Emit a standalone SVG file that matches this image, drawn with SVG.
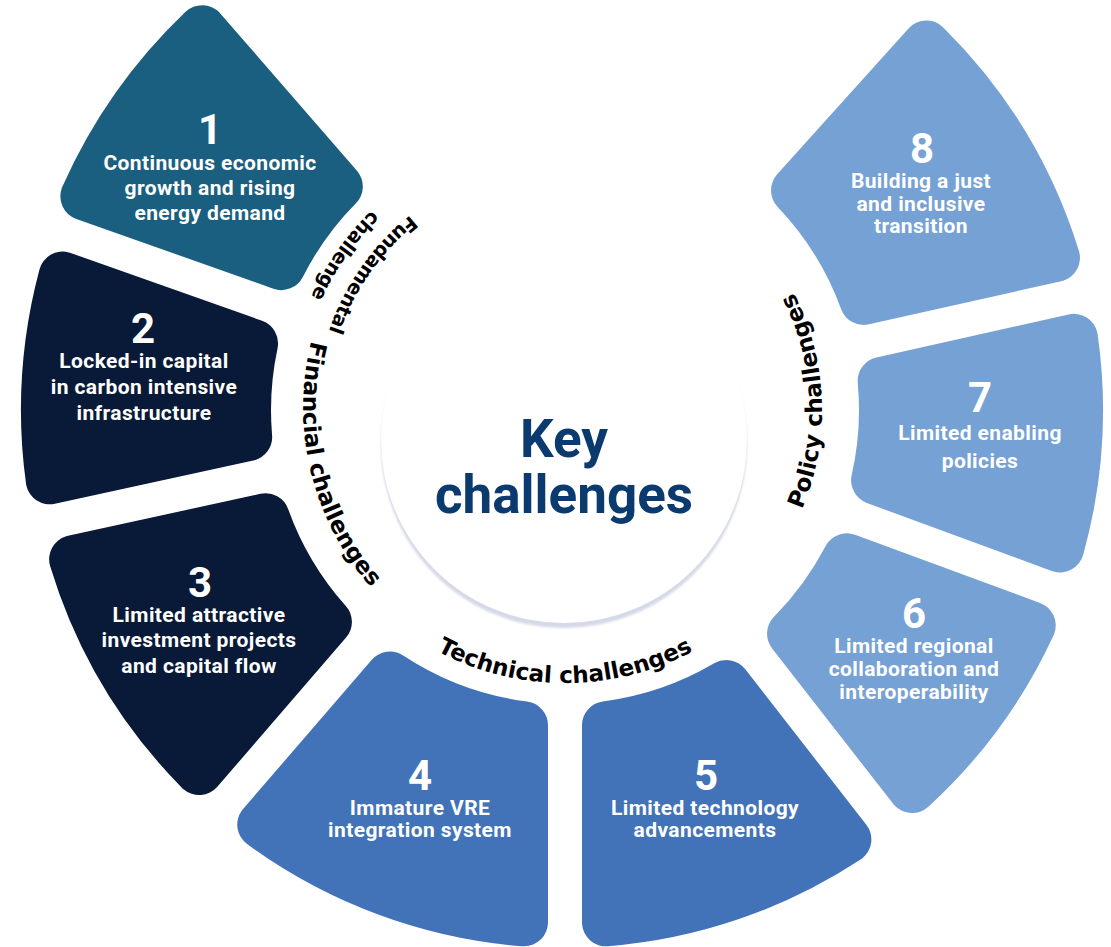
<svg xmlns="http://www.w3.org/2000/svg" xmlns:xlink="http://www.w3.org/1999/xlink" width="1111" height="947" viewBox="0 0 1111 947">
<defs>
<style>
.seg{stroke-width:48;stroke-linejoin:round}
.c1{fill:#1a5f80;stroke:#1a5f80}
.c2{fill:#081a37;stroke:#081a37}
.c4{fill:#4273b8;stroke:#4273b8}
.c6{fill:#76a1d4;stroke:#76a1d4}
.num{font-family:Roboto,"Liberation Sans",sans-serif;font-weight:700;font-size:42px;fill:#fff;text-anchor:middle}
.txt{font-family:Roboto,"Liberation Sans",sans-serif;font-weight:700;font-size:21px;letter-spacing:0.4px;fill:#fff;text-anchor:middle}
.lbl{font-family:"DejaVu Sans",sans-serif;font-weight:700;font-size:23px;fill:#000;text-anchor:middle}
.lbls{font-family:"DejaVu Sans",sans-serif;font-weight:700;font-size:19.5px;fill:#000;text-anchor:middle}
.key{font-family:Roboto,"Liberation Sans",sans-serif;font-weight:700;font-size:53px;fill:#0b3a6e;text-anchor:middle}
</style>
<path id="pTech" d="M296.15,457.41 A273,273 0 0 0 833.85,457.41"/>
<path id="pFin" d="M456.91,162.58 A272,272 0 0 0 581.95,679.47"/>
<path id="pPol" d="M619.31,661.2 A257,257 0 0 0 599.88,155.38"/>
<path id="pFund1" d="M670.23,184.33 A249,249 0 0 0 388.93,586.07"/>
<path id="pFund2" d="M682.49,158.05 A278,278 0 0 0 368.42,606.58"/>
<filter id="blur" x="-10%" y="-10%" width="120%" height="120%"><feGaussianBlur stdDeviation="1.2"/></filter>
</defs>
<rect width="1111" height="947" fill="#fff"/>

<g id="center">
<circle cx="564" cy="445" r="183" fill="#d6d9e7" filter="url(#blur)"/>
<circle cx="564" cy="440" r="183" fill="#fff"/>
<text class="key" x="564" y="457">Key</text>
<text class="key" x="564" y="513">challenges</text>
</g>

<g id="node1">
<path class="seg c1" d="M281.43,266.09 L84.36,196.3 A526,526 0 0 1 202.15,29.17 L338.85,186.43 A318,318 0 0 0 281.43,266.09 Z"/>
<text class="num" x="210" y="144">1</text>
<text class="txt" x="210" y="170">Continuous economic</text>
<text class="txt" x="210" y="195">growth and rising</text>
<text class="txt" x="210" y="220">energy demand</text>
</g>

<g id="node2">
<path class="seg c2" d="M248.16,437.12 L49.78,480.37 A520,520 0 0 1 62.66,275.61 L254.06,343.38 A318,318 0 0 0 248.16,437.12 Z"/>
<text class="num" x="143" y="343">2</text>
<text class="txt" x="144" y="368">Locked-in capital</text>
<text class="txt" x="144" y="394">in carbon intensive</text>
<text class="txt" x="144" y="420">infrastructure</text>
</g>

<g id="node3">
<path class="seg c2" d="M327.91,621.92 L199.17,771.07 A514,514 0 0 1 73.13,559.2 L265.63,517.24 A318,318 0 0 0 327.91,621.92 Z"/>
<text class="num" x="200" y="597">3</text>
<text class="txt" x="199" y="622">Limited attractive</text>
<text class="txt" x="199" y="647">investment projects</text>
<text class="txt" x="199" y="673">and capital flow</text>
</g>

<g id="node4">
<path class="seg c4" d="M524,725.34 L524,922.36 A514,514 0 0 1 261.24,824.65 L389.98,675.51 A318,318 0 0 0 524,725.34 Z"/>
<text class="num" x="420" y="790">4</text>
<text class="txt" x="420" y="815">Immature VRE</text>
<text class="txt" x="420" y="837">integration system</text>
</g>

<g id="node5">
<path class="seg c4" d="M726.36,684.02 L847.39,839.49 A514,514 0 0 1 606,922.36 L606,725.34 A318,318 0 0 0 726.36,684.02 Z"/>
<text class="num" x="706" y="790">5</text>
<text class="txt" x="705" y="815">Limited technology</text>
<text class="txt" x="705" y="837">advancements</text>
</g>

<g id="node6">
<path class="seg c6" d="M846.79,557.37 L1031.7,625.4 A514,514 0 0 1 912.09,789.11 L791.07,633.65 A318,318 0 0 0 846.79,557.37 Z"/>
<text class="num" x="914" y="628">6</text>
<text class="txt" x="914" y="653">Limited regional</text>
<text class="txt" x="914" y="676">collaboration and</text>
<text class="txt" x="914" y="699">interoperability</text>
</g>

<g id="node7">
<path class="seg c6" d="M881.67,380.95 L1073.9,337.8 A514,514 0 0 1 1060.01,548.44 L875.11,480.41 A318,318 0 0 0 881.67,380.95 Z"/>
<text class="num" x="980" y="412">7</text>
<text class="txt" x="980" y="440">Limited enabling</text>
<text class="txt" x="980" y="468">policies</text>
</g>

<g id="node8">
<path class="seg c6" d="M795.01,190.41 L926.39,44.49 A514,514 0 0 1 1055.95,257.79 L863.71,300.94 A318,318 0 0 0 795.01,190.41 Z"/>
<text class="num" x="922" y="163">8</text>
<text class="txt" x="921" y="188">Building a just</text>
<text class="txt" x="921" y="211">and inclusive</text>
<text class="txt" x="921" y="233">transition</text>
</g>

<g id="labels">
<text class="lbls"><textPath xlink:href="#pFund1" href="#pFund1" startOffset="50%">Fundamental</textPath><textPath xlink:href="#pFund2" href="#pFund2" startOffset="50%">challenge</textPath></text>
<text class="lbl"><textPath xlink:href="#pFin" href="#pFin" startOffset="50%">Financial challenges</textPath></text>
<text class="lbl"><textPath xlink:href="#pTech" href="#pTech" startOffset="50%">Technical challenges</textPath></text>
<text class="lbl"><textPath xlink:href="#pPol" href="#pPol" startOffset="50%">Policy challenges</textPath></text>
</g>
</svg>
